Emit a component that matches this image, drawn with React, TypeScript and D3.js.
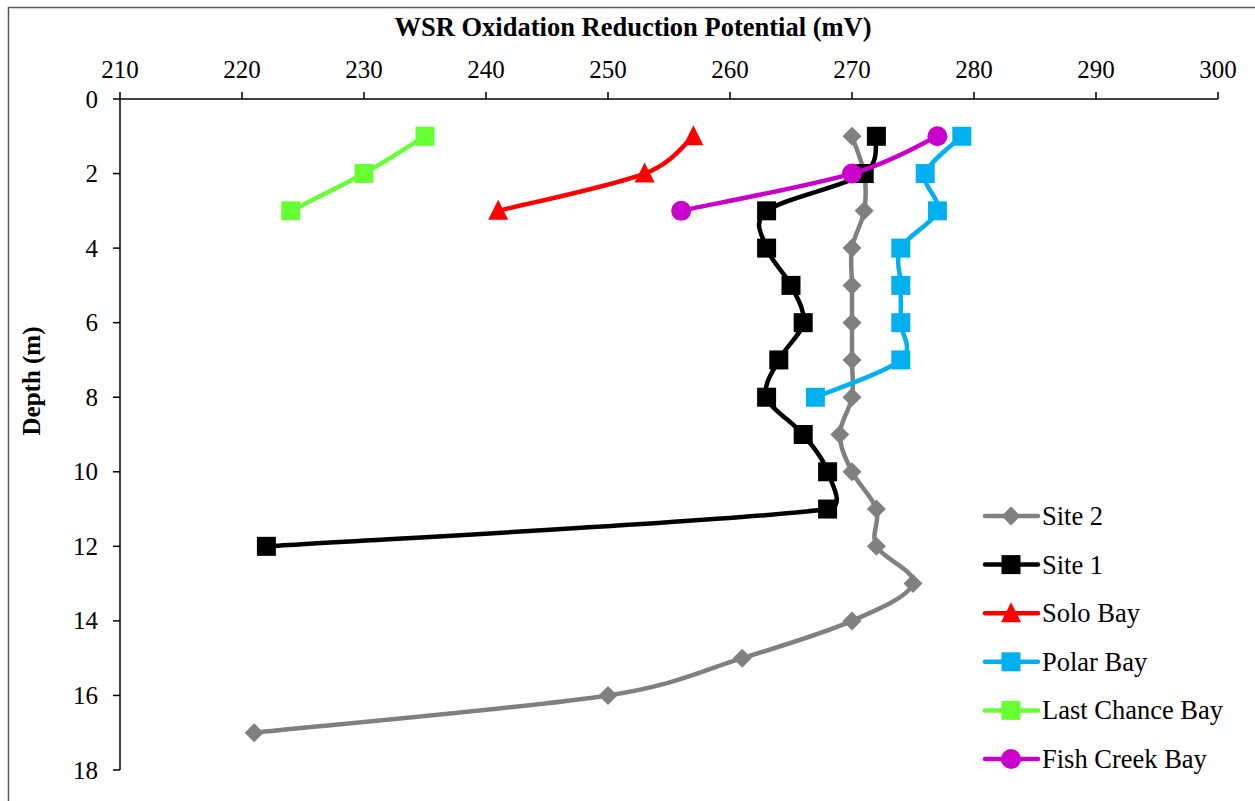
import React from "react";
import * as d3 from "d3";

const xTicks = [210, 220, 230, 240, 250, 260, 270, 280, 290, 300];
const yTicks = [0, 2, 4, 6, 8, 10, 12, 14, 16, 18];

const site2Depth = [1, 2, 3, 4, 5, 6, 7, 8, 9, 10, 11, 12, 13, 14, 15, 16, 17];
const site2ORP = [270, 271, 271, 270, 270, 270, 270, 270, 269, 270, 272, 272, 275, 270, 261, 250, 221];
const site1Depth = [1, 2, 3, 4, 5, 6, 7, 8, 9, 10, 11, 12];
const site1ORP = [272, 271, 263, 263, 265, 266, 264, 263, 266, 268, 268, 222];
const soloDepth = [1, 2, 3];
const soloORP = [257, 253, 241];
const polarDepth = [1, 2, 3, 4, 5, 6, 7, 8];
const polarORP = [279, 276, 277, 274, 274, 274, 274, 267];
const lastChanceDepth = [1, 2, 3];
const lastChanceORP = [235, 230, 224];
const fishCreekDepth = [1, 2, 3];
const fishCreekORP = [277, 270, 256];

const seriesNames = ["Site 2", "Site 1", "Solo Bay", "Polar Bay", "Last Chance Bay", "Fish Creek Bay"];
const seriesColors = ["#808080", "#000000", "#ff0000", "#00b0f0", "#66ff33", "#cc00cc"];
const seriesMarkers = ["diamond", "square", "triangle", "square", "square", "circle"];
const seriesDepths = [site2Depth, site1Depth, soloDepth, polarDepth, lastChanceDepth, fishCreekDepth];
const seriesValues = [site2ORP, site1ORP, soloORP, polarORP, lastChanceORP, fishCreekORP];

const FONT = "'Liberation Serif', 'Times New Roman', serif";

// Excel-like smoothed line: Catmull-Rom tangents (1/6) with control length clamped by adjacent segment length
function smoothPath(p: [number, number][]): string {
  const path = d3.path();
  const n = p.length;
  if (n === 0) return "";
  path.moveTo(p[0][0], p[0][1]);
  if (n === 1) return path.toString();
  const k = 0.5;
  const tangent = (i: number): [number, number] => {
    const a = p[Math.max(0, i - 1)];
    const b = p[Math.min(n - 1, i + 1)];
    return [(b[0] - a[0]) / 6, (b[1] - a[1]) / 6];
  };
  const dist = (a: [number, number], b: [number, number]) => Math.hypot(b[0] - a[0], b[1] - a[1]);
  for (let i = 0; i < n - 1; i++) {
    const seg = dist(p[i], p[i + 1]);
    const t0 = tangent(i);
    const t1 = tangent(i + 1);
    const l0 = Math.hypot(t0[0], t0[1]) || 1;
    const l1 = Math.hypot(t1[0], t1[1]) || 1;
    const s0 = Math.min(1, (k * seg) / l0);
    const s1 = Math.min(1, (k * seg) / l1);
    path.bezierCurveTo(
      p[i][0] + t0[0] * s0,
      p[i][1] + t0[1] * s0,
      p[i + 1][0] - t1[0] * s1,
      p[i + 1][1] - t1[1] * s1,
      p[i + 1][0],
      p[i + 1][1]
    );
  }
  return path.toString();
}

function Marker({ type, x, y, color }: { type: string; x: number; y: number; color: string }) {
  if (type === "square") return <rect x={x - 9.5} y={y - 9.5} width={19} height={19} fill={color} />;
  if (type === "circle") return <circle cx={x} cy={y} r={10} fill={color} />;
  if (type === "diamond")
    return <path d={`M${x},${y - 9.5}L${x + 9.5},${y}L${x},${y + 9.5}L${x - 9.5},${y}Z`} fill={color} />;
  return <path d={`M${x},${y - 11}L${x + 10},${y + 9}L${x - 10},${y + 9}Z`} fill={color} />;
}

export default function App() {
  const x = d3.scaleLinear().domain([210, 300]).range([120, 1218]);
  const y = d3.scaleLinear().domain([0, 18]).range([99, 770]);

  const legendY0 = 516;
  const legendStep = 48.6;

  return (
    <svg
      width={1255}
      height={801}
      style={{ position: "absolute", left: 0, top: 0, display: "block", background: "#fff" }}
      fontFamily={FONT}
    >
      <rect x={8.5} y={7.5} width={1252} height={800} fill="#fff" stroke="#595959" strokeWidth={1.5} />
      <text x={633} y={36} textAnchor="middle" fontSize={26.5} fontWeight="bold">
        WSR Oxidation Reduction Potential (mV)
      </text>
      <text
        transform={`translate(40,381) rotate(-90)`}
        textAnchor="middle"
        fontSize={25}
        fontWeight="bold"
      >
        Depth (m)
      </text>
      {/* x axis on top */}
      <line x1={x(210)} x2={x(300)} y1={y(0)} y2={y(0)} stroke="#000" strokeWidth={1.5} />
      {xTicks.map((t) => (
        <g key={"x" + t}>
          <line x1={x(t)} x2={x(t)} y1={y(0)} y2={y(0) - 7} stroke="#000" strokeWidth={1.5} />
          <text x={x(t)} y={y(0) - 21} textAnchor="middle" fontSize={25}>
            {t}
          </text>
        </g>
      ))}
      {/* y axis */}
      <line x1={x(210)} x2={x(210)} y1={y(0)} y2={y(18)} stroke="#000" strokeWidth={1.5} />
      {yTicks.map((t) => (
        <g key={"y" + t}>
          <line x1={x(210) - 7} x2={x(210)} y1={y(t)} y2={y(t)} stroke="#000" strokeWidth={1.5} />
          <text x={x(210) - 22} y={y(t) + 8.5} textAnchor="end" fontSize={25}>
            {t}
          </text>
        </g>
      ))}
      {seriesNames.map((name, i) => {
        const pts: [number, number][] = seriesValues[i].map((v, j) => [x(v), y(seriesDepths[i][j])]);
        return (
          <g key={name}>
            <path d={smoothPath(pts)} fill="none" stroke={seriesColors[i]} strokeWidth={4.5} strokeLinejoin="round" />
            {pts.map((p, j) => (
              <Marker key={j} type={seriesMarkers[i]} x={p[0]} y={p[1]} color={seriesColors[i]} />
            ))}
          </g>
        );
      })}
      {/* legend */}
      {seriesNames.map((name, i) => {
        const ly = legendY0 + i * legendStep;
        return (
          <g key={"l" + name}>
            <line x1={985} x2={1038} y1={ly} y2={ly} stroke={seriesColors[i]} strokeWidth={4.5} strokeLinecap="round" />
            <Marker type={seriesMarkers[i]} x={1011} y={ly} color={seriesColors[i]} />
            <text x={1042} y={ly + 9} fontSize={26.5}>
              {name}
            </text>
          </g>
        );
      })}
    </svg>
  );
}
